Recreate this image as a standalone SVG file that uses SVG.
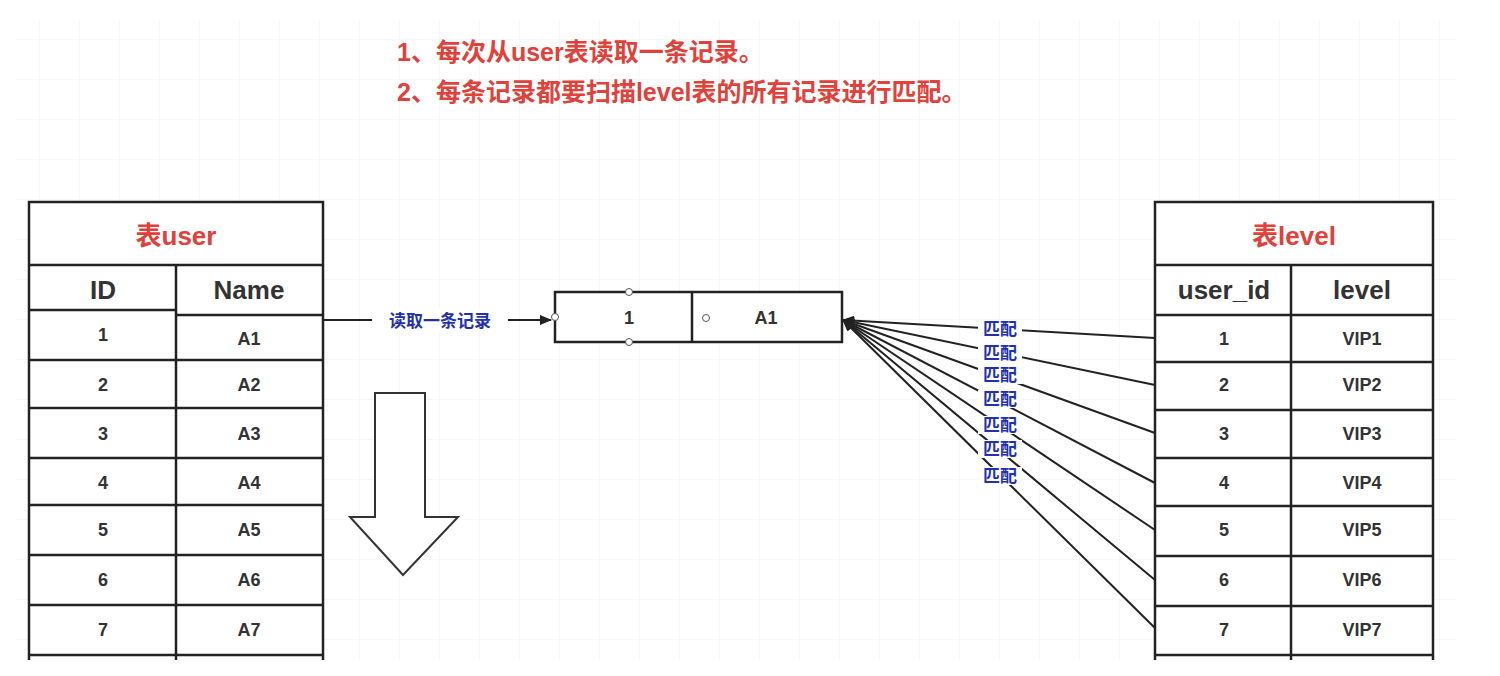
<svg xmlns="http://www.w3.org/2000/svg" width="1500" height="676" viewBox="0 0 1500 676">
<defs>
<style>
.ln{stroke:#222;stroke-width:2.5;fill:none}
.t{font-family:"Liberation Sans","Noto Sans CJK SC",sans-serif;text-anchor:middle;fill:#333}
.h{font-size:26px;font-weight:bold}
.r{font-size:18px;font-weight:bold}
.red{fill:#e0413a}
.m{font-family:"Liberation Sans","Noto Sans CJK SC",sans-serif;font-size:17px;font-weight:bold;fill:#2230b0;text-anchor:middle}
.w{fill:#fff}
.g{stroke:#eee;stroke-width:1}
</style>
<marker id="a" markerWidth="12" markerHeight="10" refX="11" refY="5" orient="auto" markerUnits="userSpaceOnUse"><path d="M0,0L12,5L0,10Z" fill="#222"/></marker>
<pattern id="grid" width="40" height="40" patternUnits="userSpaceOnUse"><path d="M40 0V40M0 40H40" class="g"/></pattern>
</defs>
<rect width="1500" height="676" fill="#fff"/>
<rect x="15" y="20" width="1440" height="640" fill="url(#grid)"/>
<g font-family="Liberation Sans,Noto Sans CJK SC,sans-serif" font-size="25" font-weight="bold" fill="#e0413a">
<text x="397" y="61">1、每次从user表读取一条记录。</text>
<text x="397" y="101">2、每条记录都要扫描level表的所有记录进行匹配。</text>
</g>
<g id="user">
<rect x="29" y="202" width="294" height="470" fill="#fff"/>
<path class="ln" d="M29 660V202H323V660M29 265H323M29 310H176M176 315H323M29 360H323M29 408H323M29 458H323M29 505H323M29 555H323M29 605H323M29 655H323M176 265V660"/>
<text class="t h red" x="176" y="245">表user</text>
<text class="t h" x="103" y="299">ID</text><text class="t h" x="249" y="299">Name</text>
<g class="t r">
<text x="103" y="341">1</text><text x="249" y="345">A1</text>
<text x="103" y="391">2</text><text x="249" y="391">A2</text>
<text x="103" y="440">3</text><text x="249" y="440">A3</text>
<text x="103" y="489">4</text><text x="249" y="489">A4</text>
<text x="103" y="536">5</text><text x="249" y="536">A5</text>
<text x="103" y="586">6</text><text x="249" y="586">A6</text>
<text x="103" y="636">7</text><text x="249" y="636">A7</text>
</g>
</g>
<g id="level">
<rect x="1155" y="202" width="278" height="470" fill="#fff"/>
<path class="ln" d="M1155 660V202H1433V660M1155 265H1433M1155 315H1433M1155 362H1433M1155 410H1433M1155 458H1433M1155 506H1433M1155 556H1433M1155 606H1433M1155 655H1433M1291 265V660"/>
<text class="t h red" x="1294" y="245">表level</text>
<text class="t h" x="1224" y="299">user_id</text><text class="t h" x="1362" y="299">level</text>
<g class="t r">
<text x="1224" y="345">1</text><text x="1362" y="345">VIP1</text>
<text x="1224" y="391">2</text><text x="1362" y="391">VIP2</text>
<text x="1224" y="440">3</text><text x="1362" y="440">VIP3</text>
<text x="1224" y="489">4</text><text x="1362" y="489">VIP4</text>
<text x="1224" y="536">5</text><text x="1362" y="536">VIP5</text>
<text x="1224" y="586">6</text><text x="1362" y="586">VIP6</text>
<text x="1224" y="636">7</text><text x="1362" y="636">VIP7</text>
</g>
</g>
<rect x="0" y="662" width="1500" height="14" fill="#fff"/>
<g id="record">
<rect x="555" y="292" width="287" height="50" fill="#fff" stroke="#222" stroke-width="2.5"/>
<path class="ln" d="M692 292V342"/>
<text class="t r" x="629" y="324">1</text><text class="t r" x="766" y="324">A1</text>
<g fill="#fff" stroke="#555" stroke-width="1"><circle cx="629" cy="292" r="3.5"/><circle cx="629" cy="342" r="3.5"/><circle cx="555" cy="317" r="3.5"/><circle cx="706" cy="318" r="3.5"/></g>
</g>
<g id="down">
<path d="M375 393H425V517H458L403 575L350 517H375Z" fill="#fff" stroke="#333" stroke-width="2"/>
</g>
<g id="connectors">
<path class="ln" style="stroke-width:2" d="M323 320H551" marker-end="url(#a)"/>
<rect x="372" y="309" width="136" height="22" class="w"/>
<text class="m" x="440" y="327">读取一条记录</text>
<g class="ln" style="stroke-width:2" marker-end="url(#a)">
<path d="M1155 338L843 320"/><path d="M1155 385L843 320"/><path d="M1155 433L843 320"/><path d="M1155 483L843 320"/><path d="M1155 530L843 320"/><path d="M1155 580L843 320"/><path d="M1155 628L843 320"/>
</g>
<g>
<rect x="978" y="320" width="44" height="18" class="w"/>
<rect x="978" y="344" width="44" height="18" class="w"/>
<rect x="978" y="366" width="44" height="18" class="w"/>
<rect x="978" y="390" width="44" height="18" class="w"/>
<rect x="978" y="416" width="44" height="18" class="w"/>
<rect x="978" y="440" width="44" height="18" class="w"/>
<rect x="978" y="467" width="44" height="18" class="w"/>
<text class="m" x="1000" y="335">匹配</text><text class="m" x="1000" y="359">匹配</text><text class="m" x="1000" y="381">匹配</text><text class="m" x="1000" y="405">匹配</text><text class="m" x="1000" y="431">匹配</text><text class="m" x="1000" y="455">匹配</text><text class="m" x="1000" y="482">匹配</text>
</g>
</g>
</svg>
